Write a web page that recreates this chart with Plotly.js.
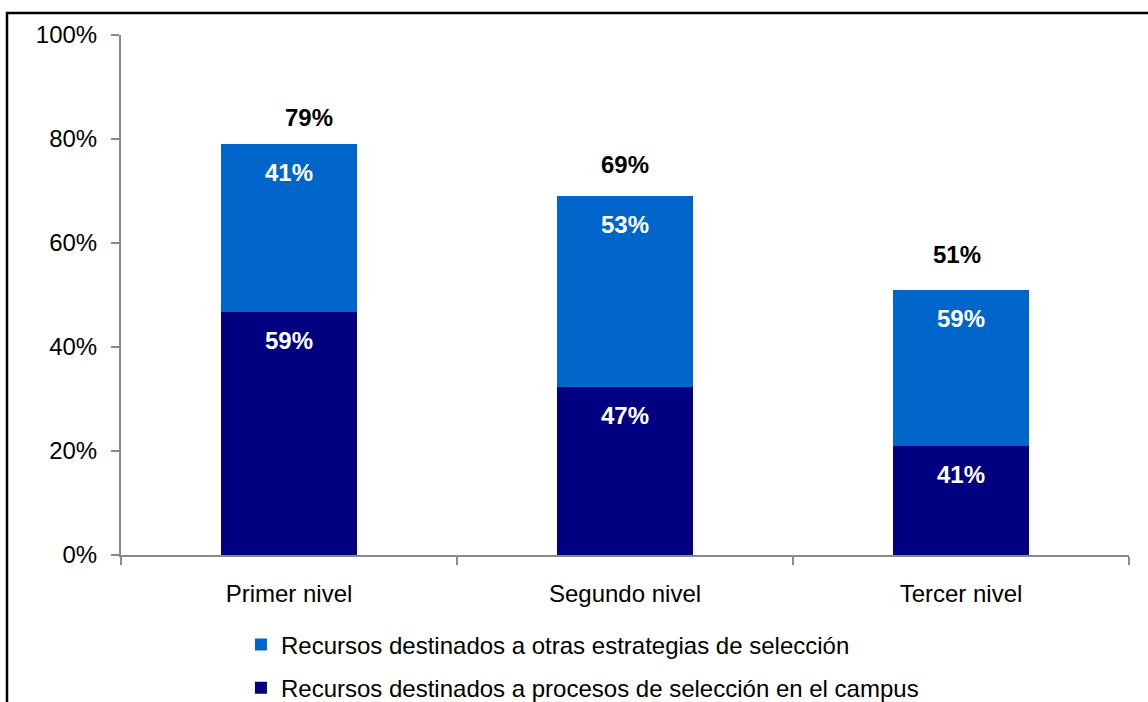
<!DOCTYPE html>
<html>
<head>
<meta charset="utf-8">
<script src="https://cdn.plot.ly/plotly-3.0.1.min.js"></script>
<style>
  html, body { margin: 0; padding: 0; background: #ffffff; }
  #chart { width: 1148px; height: 702px; }
</style>
</head>
<body>
<div id="chart"></div>
<script>
// ---- data ----
const categories = ['Primer nivel', 'Segundo nivel', 'Tercer nivel'];
const campusValues = [46.7, 32.4, 20.9];   // height of dark segment (% of axis)
const otherValues  = [32.3, 36.6, 30.1];   // height of light segment (% of axis)
const campusLabels = ['59%', '47%', '41%'];
const otherLabels  = ['41%', '53%', '59%'];
const totalLabels  = ['79%', '69%', '51%'];
const yTickVals = [0, 20, 40, 60, 80, 100];
const yTickText = ['0%', '20%', '40%', '60%', '80%', '100%'];
const seriesNames = [
  'Recursos destinados a procesos de selección en el campus',
  'Recursos destinados a otras estrategias de selección'
];

// ---- styling ----
const FONT = '"Liberation Sans", Arial, sans-serif';
const DARK = '#000080';
const LIGHT = '#0066CC';
const AXIS = '#898989';
const totalXShift = [20, 0, -4];
const totalYShift = [27, 32, 35];

const traces = [
  {
    type: 'bar', x: categories, y: campusValues, name: seriesNames[0],
    marker: { color: DARK, line: { width: 0 } }, legendgroup: 'a', legendrank: 2,
    hoverinfo: 'skip'
  },
  {
    type: 'bar', x: categories, y: otherValues, name: seriesNames[1],
    marker: { color: LIGHT, line: { width: 0 } }, legendgroup: 'b', legendrank: 1,
    hoverinfo: 'skip'
  }
];

const annotations = [];
categories.forEach((c, i) => {
  const top = campusValues[i] + otherValues[i];
  annotations.push({
    x: c, y: campusValues[i], yref: 'y', xref: 'x', text: '<b>' + campusLabels[i] + '</b>',
    showarrow: false, yanchor: 'middle', yshift: -28.5,
    font: { family: FONT, size: 24, color: '#ffffff' }
  });
  annotations.push({
    x: c, y: top, yref: 'y', xref: 'x', text: '<b>' + otherLabels[i] + '</b>',
    showarrow: false, yanchor: 'middle', yshift: -28.5,
    font: { family: FONT, size: 24, color: '#ffffff' }
  });
  annotations.push({
    x: c, y: top, yref: 'y', xref: 'x', text: '<b>' + totalLabels[i] + '</b>',
    showarrow: false, yanchor: 'middle', yshift: totalYShift[i], xshift: totalXShift[i],
    font: { family: FONT, size: 24, color: '#000000' }
  });
});

const layout = {
  width: 1148, height: 702,
  margin: { l: 121, r: 19, t: 35, b: 147, pad: 0, autoexpand: false },
  paper_bgcolor: '#ffffff', plot_bgcolor: '#ffffff',
  font: { family: FONT, size: 24, color: '#000000' },
  barmode: 'stack',
  bargap: 0.595,
  showlegend: true,
  legend: {
    orientation: 'v', x: 0.119, xanchor: 'left', y: -0.1295, yanchor: 'top',
    traceorder: 'grouped', tracegroupgap: 9,
    font: { family: FONT, size: 24, color: '#000000' },
    bgcolor: 'rgba(0,0,0,0)', borderwidth: 0
  },
  xaxis: {
    type: 'category', showgrid: false, zeroline: false,
    showline: true, linecolor: AXIS, linewidth: 2,
    ticks: 'outside', tickson: 'boundaries', ticklen: 8, tickcolor: AXIS, tickwidth: 2,
    ticklabelstandoff: 16,
    tickfont: { family: FONT, size: 24, color: '#000000' },
    fixedrange: true
  },
  yaxis: {
    range: [0, 100], tickvals: yTickVals, ticktext: yTickText,
    showgrid: false, zeroline: false,
    showline: true, linecolor: AXIS, linewidth: 2,
    ticks: 'outside', ticklen: 8, tickcolor: AXIS, tickwidth: 2,
    ticklabelstandoff: 9,
    tickfont: { family: FONT, size: 24, color: '#000000' },
    fixedrange: true
  },
  shapes: [
    {
      type: 'rect', xref: 'paper', yref: 'paper',
      x0: (7 - 121) / 1008, x1: 1.2, y0: -0.5, y1: (555 - 13) / 520,
      line: { color: '#000000', width: 2.5 }, fillcolor: 'rgba(0,0,0,0)', layer: 'above'
    }
  ],
  annotations: annotations
};

Plotly.newPlot('chart', traces, layout, { displayModeBar: false, staticPlot: true });
</script>
</body>
</html>
